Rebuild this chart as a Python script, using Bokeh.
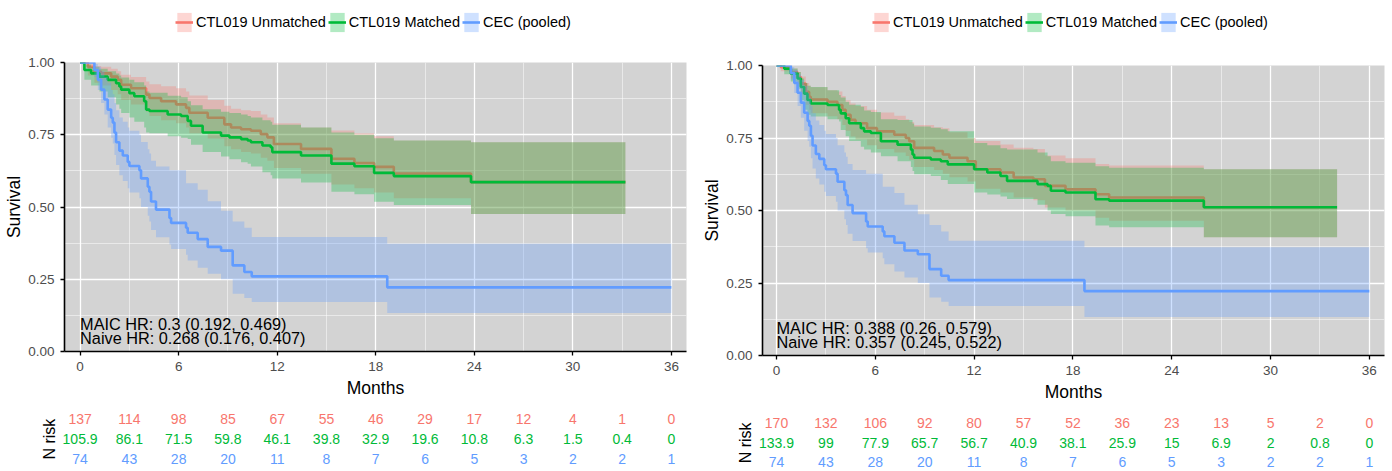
from bokeh.plotting import figure
from bokeh.models import (Range1d, FixedTicker, Legend, LegendItem, ColumnDataSource,
                          PrintfTickFormatter, Label)
from bokeh.layouts import row, column
from bokeh.embed import file_html
from bokeh.resources import INLINE
from bokeh.core.properties import value
import math

# ---------------------------------------------------------------- data
series_names = ["CTL019 Unmatched", "CTL019 Matched", "CEC (pooled)"]

# CEC (pooled) - same in both panels
cec_t  = [0, 0.87, 1.08, 1.28, 1.48, 1.68, 1.89, 1.99, 2.09, 2.19, 2.39, 2.6, 2.9, 3.0, 3.61, 3.71,
          4.12, 4.22, 4.32, 4.62, 5.44, 5.54, 6.45, 6.55, 7.16, 7.77, 8.58, 9.29, 10.0, 10.45, 18.7]
cec_s  = [1, 0.974, 0.94, 0.906, 0.872, 0.837, 0.809, 0.792, 0.758, 0.724, 0.695, 0.678, 0.656, 0.642, 0.627, 0.599,
          0.57, 0.553, 0.519, 0.491, 0.462, 0.445, 0.428, 0.411, 0.389, 0.362, 0.349, 0.298, 0.275, 0.26, 0.222]
cec_lo = [1, 0.95, 0.905, 0.86, 0.82, 0.775, 0.74, 0.72, 0.68, 0.645, 0.61, 0.59, 0.565, 0.55, 0.53, 0.5,
          0.47, 0.45, 0.42, 0.395, 0.37, 0.355, 0.335, 0.315, 0.29, 0.269, 0.25, 0.2, 0.185, 0.171, 0.133]
cec_hi = [1, 0.995, 0.985, 0.97, 0.95, 0.93, 0.905, 0.89, 0.86, 0.835, 0.81, 0.795, 0.775, 0.764, 0.75, 0.725,
          0.7, 0.685, 0.66, 0.64, 0.627, 0.627, 0.582, 0.582, 0.56, 0.52, 0.487, 0.45, 0.428, 0.396, 0.373]
cec_end = 36

# Left panel: CTL019 Unmatched
l_red_t  = [0, 0.47, 0.87, 1.28, 1.89, 2.29, 2.5, 3.1, 4.02, 4.22, 4.93, 5.84, 6.45, 6.65, 7.77, 8.78,
            9.19, 9.8, 10.4, 11.0, 11.4, 11.8, 13.45, 15.3, 16.7, 17.9, 19.1, 23.8]
l_red_s  = [1, 0.985, 0.968, 0.9625, 0.951, 0.94, 0.923, 0.911, 0.889, 0.877, 0.866, 0.855, 0.843, 0.826, 0.809, 0.786,
            0.775, 0.769, 0.764, 0.752, 0.741, 0.718, 0.701, 0.667, 0.652, 0.639, 0.616, 0.586]
l_red_lo = [1, 0.955, 0.93, 0.92, 0.905, 0.89, 0.87, 0.855, 0.83, 0.815, 0.8, 0.79, 0.775, 0.755, 0.737, 0.71,
            0.7, 0.69, 0.685, 0.67, 0.66, 0.635, 0.615, 0.578, 0.565, 0.55, 0.53, 0.476]
l_red_hi = [1, 0.997, 0.988, 0.985, 0.978, 0.97, 0.958, 0.95, 0.934, 0.925, 0.918, 0.911, 0.9, 0.886, 0.87, 0.85,
            0.84, 0.835, 0.832, 0.82, 0.81, 0.79, 0.775, 0.765, 0.755, 0.745, 0.73, 0.724]
l_red_end = 33.2

# Left panel: CTL019 Matched
l_grn_t  = [0, 0.26, 0.67, 1.18, 1.68, 2.19, 2.39, 2.5, 3.0, 3.3, 3.9, 4.02, 4.22, 5.33, 6.15, 6.55, 6.75,
            7.46, 8.58, 9.09, 9.8, 10.2, 10.4, 11.1, 11.6, 11.7, 13.45, 15.3, 16.7, 17.9, 19.1, 23.8]
l_grn_s  = [1, 0.974, 0.9625, 0.951, 0.94, 0.928, 0.917, 0.906, 0.894, 0.883, 0.866, 0.837, 0.832, 0.82, 0.815, 0.798, 0.781,
            0.758, 0.747, 0.741, 0.735, 0.73, 0.724, 0.713, 0.707, 0.69, 0.678, 0.65, 0.641, 0.618, 0.607, 0.586]
l_grn_lo = [1, 0.94, 0.92, 0.9, 0.88, 0.855, 0.84, 0.825, 0.81, 0.795, 0.775, 0.758, 0.755, 0.745, 0.74, 0.735, 0.715,
            0.69, 0.675, 0.665, 0.655, 0.65, 0.64, 0.62, 0.61, 0.599, 0.585, 0.553, 0.544, 0.518, 0.507, 0.476]
l_grn_hi = [1, 0.993, 0.985, 0.978, 0.97, 0.962, 0.955, 0.948, 0.94, 0.932, 0.92, 0.9, 0.895, 0.885, 0.88, 0.866, 0.852,
            0.838, 0.83, 0.825, 0.82, 0.815, 0.81, 0.8, 0.795, 0.785, 0.775, 0.758, 0.75, 0.738, 0.73, 0.724]
l_grn_end = 33.2

# Right panel: CTL019 Unmatched
r_red_t  = [0, 0.26, 0.87, 1.28, 1.48, 1.78, 1.98, 2.08, 3.1, 3.7, 4.0, 4.2, 4.5, 4.8, 5.5, 6.1, 7.15, 7.85,
            8.06, 8.36, 9.57, 10.1, 10.5, 11.6, 12.1, 13.6, 14.4, 15.6, 16.3, 17.55, 19.37, 20.2, 25.95]
r_red_s  = [1, 0.994, 0.977, 0.96, 0.9375, 0.909, 0.892, 0.883, 0.875, 0.864, 0.847, 0.83, 0.8125, 0.801, 0.784, 0.773, 0.761, 0.75,
            0.739, 0.716, 0.705, 0.693, 0.682, 0.67, 0.642, 0.631, 0.614, 0.608, 0.585, 0.573, 0.556, 0.545, 0.511]
r_red_lo = [1, 0.98, 0.955, 0.93, 0.9, 0.865, 0.847, 0.835, 0.825, 0.815, 0.795, 0.775, 0.755, 0.745, 0.725, 0.712, 0.7, 0.688,
            0.675, 0.65, 0.64, 0.627, 0.615, 0.6, 0.575, 0.562, 0.545, 0.535, 0.51, 0.5, 0.475, 0.465, 0.408]
r_red_hi = [1, 1.0, 0.99, 0.978, 0.962, 0.94, 0.93, 0.925, 0.915, 0.91, 0.895, 0.88, 0.869, 0.86, 0.847, 0.838, 0.827, 0.815,
            0.805, 0.795, 0.787, 0.784, 0.77, 0.75, 0.74, 0.728, 0.716, 0.712, 0.69, 0.68, 0.66, 0.655, 0.642]
r_red_end = 34.04

# Right panel: CTL019 Matched
r_grn_t  = [0, 0.47, 0.87, 1.28, 1.48, 1.68, 1.88, 2.08, 3.1, 3.8, 3.9, 4.2, 4.41, 5.12, 5.32, 5.73, 6.34,
            7.35, 8.16, 8.26, 8.36, 9.37, 9.98, 10.4, 12.0, 12.8, 13.6, 14.0, 15.85, 16.46, 16.66, 17.55,
            19.37, 20.2, 25.95]
r_grn_s  = [1, 0.989, 0.972, 0.955, 0.926, 0.903, 0.881, 0.869, 0.864, 0.847, 0.835, 0.818, 0.801, 0.784, 0.773, 0.767, 0.739,
            0.727, 0.71, 0.693, 0.682, 0.676, 0.67, 0.659, 0.642, 0.631, 0.619, 0.602, 0.591, 0.585, 0.568, 0.562,
            0.539, 0.534, 0.511]
r_grn_lo = [1, 0.97, 0.945, 0.92, 0.88, 0.847, 0.83, 0.824, 0.815, 0.807, 0.778, 0.756, 0.74, 0.72, 0.71, 0.7, 0.6875,
            0.67, 0.65, 0.636, 0.625, 0.619, 0.605, 0.591, 0.5625, 0.555, 0.548, 0.54, 0.52, 0.5, 0.488, 0.48,
            0.448, 0.442, 0.408]
r_grn_hi = [1, 0.998, 0.99, 0.978, 0.955, 0.94, 0.93, 0.926, 0.915, 0.898, 0.89, 0.875, 0.865, 0.858, 0.845, 0.84, 0.815,
            0.812, 0.8125, 0.8, 0.79, 0.785, 0.78, 0.773, 0.733, 0.725, 0.715, 0.71, 0.7, 0.687, 0.67, 0.665,
            0.653, 0.647, 0.642]
r_grn_end = 34.04

# Numbers at risk
risk_times = [0, 3, 6, 9, 12, 15, 18, 21, 24, 27, 30, 33, 36]
l_risk_red = [137, 114, 98, 85, 67, 55, 46, 29, 17, 12, 4, 1, 0]
l_risk_grn = [105.9, 86.1, 71.5, 59.8, 46.1, 39.8, 32.9, 19.6, 10.8, 6.3, 1.5, 0.4, 0]
r_risk_red = [170, 132, 106, 92, 80, 57, 52, 36, 23, 13, 5, 2, 0]
r_risk_grn = [133.9, 99, 77.9, 65.7, 56.7, 40.9, 38.1, 25.9, 15, 6.9, 2, 0.8, 0]
risk_cec   = [74, 43, 28, 20, 11, 8, 7, 6, 5, 3, 2, 2, 1]

x_ticks = [0, 6, 12, 18, 24, 30, 36]
x_minor = [3, 9, 15, 21, 27, 33]
y_ticks = [0, 0.25, 0.5, 0.75, 1.0]
y_minor = [0.125, 0.375, 0.625, 0.875]

l_hr_text = ["MAIC HR: 0.3 (0.192, 0.469)", "Naive HR: 0.268 (0.176, 0.407)"]
r_hr_text = ["MAIC HR: 0.388 (0.26, 0.579)", "Naive HR: 0.357 (0.245, 0.522)"]

# ---------------------------------------------------------------- style
FONT = "Liberation Sans"
RED, GREEN, BLUE = "#F8766D", "#00BA38", "#619CFF"
COLORS = [RED, GREEN, BLUE]
PANEL_BG = "#D3D3D3"
BAND_ALPHA = 0.3
LINE_W = 2.6


def legend_strip(W, H, left_border, left_px, bottom_px):
    """Figure holding only the legend (keys are styled like the curves)."""
    f = figure(width=W, height=H, x_range=Range1d(0, 1), y_range=Range1d(0, 1),
               output_backend="svg", toolbar_location=None,
               min_border_left=left_border, min_border_right=0, min_border_top=0, min_border_bottom=0)
    f.xaxis.visible = False
    f.yaxis.visible = False
    f.xgrid.visible = False
    f.ygrid.visible = False
    f.outline_line_color = None
    items = []
    for name, color in zip(series_names, COLORS):
        # key glyphs only: placed outside the visible range
        src = ColumnDataSource(dict(t=[-3, -2], lo=[-3, -3], hi=[-2, -2], s=[-3, -3]))
        band = f.varea_step(x="t", y1="lo", y2="hi", source=src, step_mode="after",
                            fill_color=color, fill_alpha=BAND_ALPHA)
        line = f.step(x="t", y="s", source=src, mode="after", line_color=color, line_width=LINE_W)
        items.append(LegendItem(label=name, renderers=[band, line]))
    leg = Legend(items=items, orientation="horizontal", location=(left_px, bottom_px),
                 glyph_width=18, glyph_height=24, label_standoff=3, spacing=2,
                 padding=0, margin=0, border_line_color=None, background_fill_alpha=0,
                 label_text_font=FONT, label_text_font_size="14.5px", label_text_color="black")
    f.add_layout(leg)
    return f


def km_panel(curves, x0, x1, W, top, frame_h, bottom, left, right, hr_text):
    p = figure(width=W, height=top + frame_h + bottom, x_range=Range1d(x0, x1), y_range=Range1d(0, 1),
               output_backend="svg", toolbar_location=None,
               min_border_left=left, min_border_right=right,
               min_border_top=top, min_border_bottom=bottom)
    p.background_fill_color = PANEL_BG
    p.border_fill_color = "white"
    p.outline_line_color = None

    for color, (t, s, lo, hi, tend) in zip(COLORS, curves):
        src = ColumnDataSource(dict(t=t + [tend], s=s + [s[-1]],
                                    lo=lo + [lo[-1]], hi=hi + [hi[-1]]))
        p.varea_step(x="t", y1="lo", y2="hi", source=src, step_mode="after",
                     fill_color=color, fill_alpha=BAND_ALPHA)
        p.step(x="t", y="s", source=src, mode="after", line_color=color, line_width=LINE_W)

    # axes
    p.xaxis.ticker = FixedTicker(ticks=x_ticks, minor_ticks=x_minor)
    p.yaxis.ticker = FixedTicker(ticks=y_ticks, minor_ticks=y_minor)
    p.yaxis.formatter = PrintfTickFormatter(format="%.2f")
    p.xaxis.axis_label = "Months"
    p.yaxis.axis_label = "Survival"
    for ax in (p.xaxis, p.yaxis):
        ax.axis_line_color = "black"
        ax.axis_line_width = 1.6
        ax.major_tick_line_color = "black"
        ax.major_tick_line_width = 1.3
        ax.major_tick_out = 4
        ax.major_tick_in = 0
        ax.minor_tick_line_color = None
        ax.major_label_text_color = "#4D4D4D"
        ax.major_label_text_font = FONT
        ax.major_label_text_font_size = "13.5px"
        ax.axis_label_text_font = FONT
        ax.axis_label_text_font_size = "17.5px"
        ax.axis_label_text_font_style = "normal"
        ax.axis_label_text_color = "black"
    p.xaxis.major_label_standoff = 6
    p.xaxis.axis_label_standoff = 4
    p.yaxis.major_label_standoff = 6
    p.yaxis.axis_label_standoff = 1

    # grid
    for g in (p.xgrid, p.ygrid):
        g.grid_line_color = "white"
        g.grid_line_width = 1.3
        g.minor_grid_line_color = "white"
        g.minor_grid_line_width = 0.6
        g.minor_grid_line_alpha = 0.85

    # hazard ratio annotation
    for txt, yv in zip(hr_text, [0.094, 0.045]):
        p.add_layout(Label(x=0, y=yv, text=txt, text_baseline="middle", text_align="left",
                           text_font=FONT, text_font_size="16.3px", text_color="black"))
    return p


def risk_panel(x0, W, H, frame_left, right, y_lo, y_hi, rows, px_per, label_px):
    # frame spans from the figure's left edge so labels near t=0 are never clipped
    start = x0 - frame_left / px_per
    end = start + (W - right) / px_per
    r = figure(width=W, height=H, x_range=Range1d(start, end), y_range=Range1d(y_lo, y_hi),
               output_backend="svg", toolbar_location=None,
               min_border_left=0, min_border_right=right,
               min_border_top=0, min_border_bottom=0)
    r.outline_line_color = None
    r.xaxis.visible = False
    r.yaxis.visible = False
    r.xgrid.visible = False
    r.ygrid.visible = False
    for k, (vals, color) in enumerate(rows):
        src = ColumnDataSource(dict(x=risk_times, y=[2 - k] * len(risk_times),
                                    txt=[f"{v:g}" for v in vals]))
        r.text(x="x", y="y", text="txt", source=src, text_color=color,
               text_align="center", text_baseline="middle",
               text_font=value(FONT), text_font_size="14px")
    r.text(x=[start + label_px / px_per], y=[1], text=["N risk"], angle=math.pi / 2,
           text_align="center", text_baseline="middle", text_color="black",
           text_font=value(FONT), text_font_size="16px")
    return r


W = 696
LEG_H = 40
L_X0, L_X1 = -0.95, 36.92
R_X0, R_X1 = -0.85, 36.92
FRAME_W = 622

left_curves = [(l_red_t, l_red_s, l_red_lo, l_red_hi, l_red_end),
               (l_grn_t, l_grn_s, l_grn_lo, l_grn_hi, l_grn_end),
               (cec_t, cec_s, cec_lo, cec_hi, cec_end)]
right_curves = [(r_red_t, r_red_s, r_red_lo, r_red_hi, r_red_end),
                (r_grn_t, r_grn_s, r_grn_lo, r_grn_hi, r_grn_end),
                (cec_t, cec_s, cec_lo, cec_hi, cec_end)]

gL = legend_strip(W, LEG_H, 64, 111, 6)
pL = km_panel(left_curves, L_X0, L_X1, W, 62 - LEG_H, 292, 46, 64, 10, l_hr_text)
gR = legend_strip(W, LEG_H, 66, 110, 6)
pR = km_panel(right_curves, R_X0, R_X1, W, 65 - LEG_H, 293, 46, 66, 8, r_hr_text)

RISK_H = 67
rL = risk_panel(L_X0, W, RISK_H, 64, 10, -0.646, 2.763,
                [(l_risk_red, RED), (l_risk_grn, GREEN), (risk_cec, BLUE)],
                FRAME_W / (L_X1 - L_X0), 49)
rR = risk_panel(R_X0, W, RISK_H, 66, 8, -0.48, 2.98,
                [(r_risk_red, RED), (r_risk_grn, GREEN), (risk_cec, BLUE)],
                FRAME_W / (R_X1 - R_X0), 49)

top_row = row(column(gL, pL, spacing=0), column(gR, pR, spacing=0), spacing=0)
layout = column(top_row, row(rL, rR, spacing=0), spacing=0)

open("out.html", "w").write(file_html(layout, INLINE))
